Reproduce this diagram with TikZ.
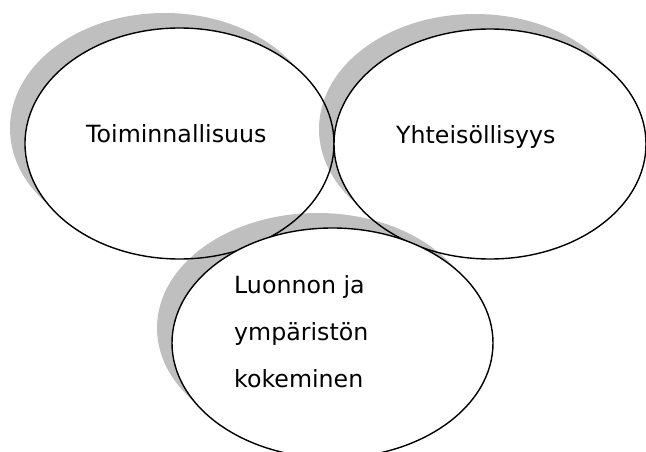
\documentclass[tikz,border=0pt]{standalone}
\usepackage{fontspec}
\setmainfont{DejaVu Sans}
\usetikzlibrary{positioning,shapes.geometric,shadows}

\begin{document}
\begin{tikzpicture}[
    x=1pt, y=-1pt,
    area/.style={ellipse, draw, fill=white, line width=1.4pt, inner sep=0pt,
        drop shadow={shadow xshift=-15pt, shadow yshift=15pt, fill=black, opacity=0.25}},
    txt/.style={font=\fontsize{23.7}{47}\selectfont, align=left, inner sep=0pt, anchor=base west}
]
\useasboundingbox (0,0) rectangle (646,452);
% Elipses (izq, der, abajo)
\node[area, minimum width=309pt, minimum height=231pt] (toim) at (179.5,143.5) {};
\node[area, minimum width=312pt, minimum height=230pt] (yht) at (490,144) {};
\node[area, minimum width=321pt, minimum height=230pt] (luo) at (332.5,343) {};
% Textos
\node[txt] (toimtxt) at (86,142.5) {Toiminnallisuus};
\node[txt] (yhttxt) at (396,143) {Yhteisöllisyys};
\node[txt] (luotxt) at (234,387) {Luonnon ja\\ympäristön\\kokeminen}; % base = ultima linea
\end{tikzpicture}
\end{document}
